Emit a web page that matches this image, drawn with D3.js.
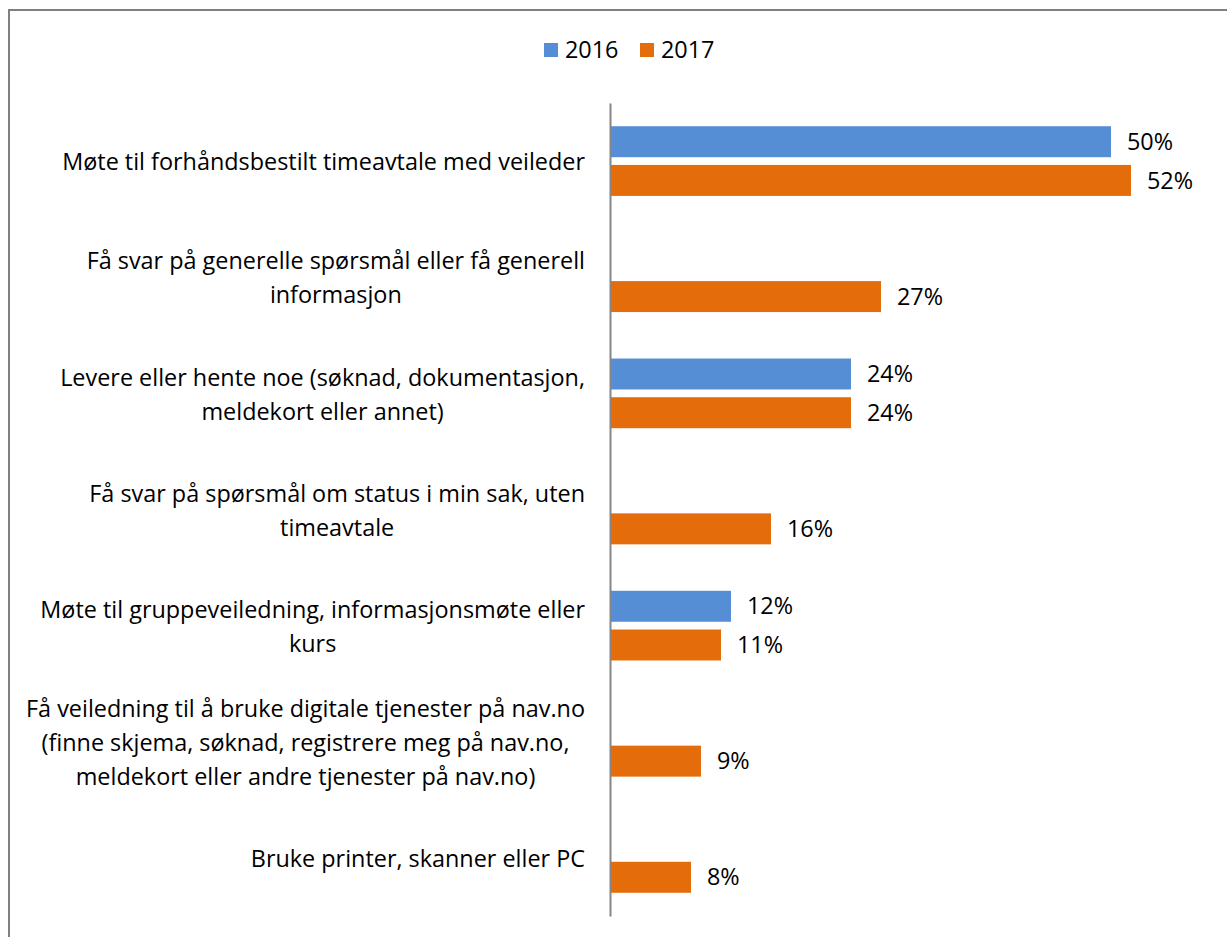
<!DOCTYPE html>
<html>
<head>
<meta charset="utf-8">
<script src="https://cdn.jsdelivr.net/npm/d3@7"></script>
<style>
  html, body { margin: 0; padding: 0; background: #fff; }
  svg { display: block; }
  text { font-family: "Open Sans", sans-serif; fill: #000; }
</style>
</head>
<body>
<svg id="chart" width="1227" height="937"></svg>
<script>
const categories = [
  ["Møte til forhåndsbestilt timeavtale med veileder"],
  ["Få svar på generelle spørsmål eller få generell", "informasjon"],
  ["Levere eller hente noe (søknad, dokumentasjon,", "meldekort eller annet)"],
  ["Få svar på spørsmål om status i min sak, uten", "timeavtale"],
  ["Møte til gruppeveiledning, informasjonsmøte eller", "kurs"],
  ["Få veiledning til å bruke digitale tjenester på nav.no", "(finne skjema, søknad, registrere meg på nav.no,", "meldekort eller andre tjenester på nav.no)"],
  ["Bruke printer, skanner eller PC"]
];
const seriesNames = ["2016", "2017"];
const values2016 = [50, null, 24, null, 12, null, null];
const values2017 = [52, 27, 24, 16, 11, 9, 8];
const colors = ["#558ED5", "#E46C0A"];

const svg = d3.select("#chart");
const W = 1227, H = 937;

// outer border
svg.append("rect").attr("x", 9).attr("y", 10).attr("width", W + 10).attr("height", H + 10)
  .attr("fill", "none").attr("stroke", "#808080").attr("stroke-width", 2);

const keys = categories.map((c, i) => "c" + i);
const x = d3.scaleLinear().domain([0, 60]).range([611, 1211]);
const y0 = d3.scaleBand().domain(keys).range([103, 916]).paddingInner(0.4).paddingOuter(0.2);
const y1 = d3.scaleBand().domain(seriesNames).range([0, y0.bandwidth()]).paddingInner(0.2);

const seriesVals = [values2016, values2017];
const fontSize = 23.4;

seriesNames.forEach((s, si) => {
  const data = seriesVals[si].map((v, i) => ({ k: keys[i], v })).filter(d => d.v != null);
  svg.append("g").selectAll("rect").data(data).join("rect")
    .attr("x", x(0))
    .attr("y", d => y0(d.k) + y1(s))
    .attr("width", d => x(d.v) - x(0))
    .attr("height", y1.bandwidth())
    .attr("fill", colors[si]);
  svg.append("g").selectAll("text").data(data).join("text")
    .attr("x", d => x(d.v) + 16)
    .attr("y", d => y0(d.k) + y1(s) + y1.bandwidth() / 2)
    .attr("dy", "0.35em")
    .attr("font-size", fontSize)
    .text(d => d.v + "%");
});

// axis line
const axis = d3.axisLeft(y0).tickSize(0).tickFormat("");
const ag = svg.append("g").attr("transform", `translate(${x(0) - 1},0)`).call(axis);
ag.select(".domain").attr("stroke", "#868686").attr("stroke-width", 2);

// category labels
const lineH = 34;
categories.forEach((lines, i) => {
  const cy = y0(keys[i]) + y0.bandwidth() / 2 + 1;
  const g = svg.append("g");
  const t = g.append("text").attr("font-size", fontSize).attr("text-anchor", "middle");
  lines.forEach((ln, j) => {
    t.append("tspan").attr("x", 0)
      .attr("y", cy + (j - (lines.length - 1) / 2) * lineH)
      .attr("dy", "0.35em").text(ln);
  });
  let maxW = 0;
  t.selectAll("tspan").each(function() { maxW = Math.max(maxW, this.getComputedTextLength()); });
  t.selectAll("tspan").attr("x", 585 - maxW / 2);
});

// legend
const legend = svg.append("g");
const legX = [544, 640];
seriesNames.forEach((s, i) => {
  legend.append("rect").attr("x", legX[i]).attr("y", 43).attr("width", 14).attr("height", 14).attr("fill", colors[i]);
  legend.append("text").attr("x", legX[i] + 21).attr("y", 50).attr("dy", "0.35em")
    .attr("font-size", fontSize).text(s);
});
</script>
</body>
</html>
